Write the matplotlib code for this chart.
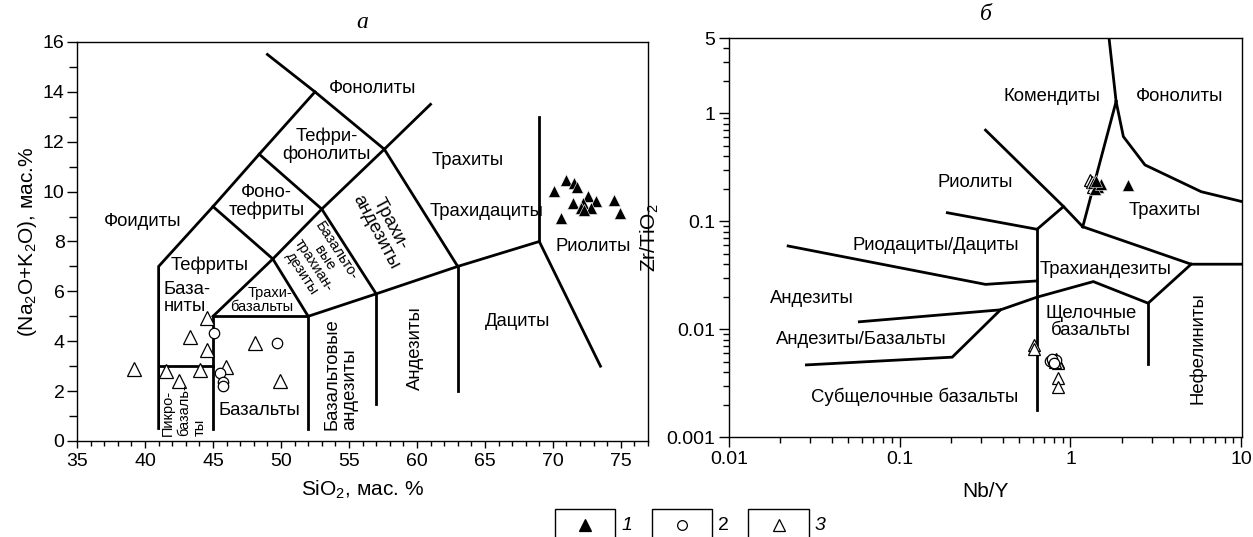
import matplotlib
matplotlib.use("Agg")
import matplotlib.pyplot as plt
from matplotlib.patches import Rectangle
from matplotlib.lines import Line2D
from matplotlib.ticker import MultipleLocator, FixedLocator, FixedFormatter, LogLocator, NullFormatter

plt.rcParams['font.family'] = ['Liberation Sans', 'DejaVu Sans']
plt.rcParams['mathtext.default'] = 'regular'

# ---------------- TAS (SiO2 vs Na2O+K2O) ----------------
sio2_1 = [70.1, 71.0, 71.55, 71.75, 72.6, 73.2, 74.5, 71.45, 72.2, 72.8, 72.05, 70.6, 74.9, 72.3]
alk_1 = [10.04, 10.47, 10.36, 10.2, 9.83, 9.64, 9.67, 9.53, 9.53, 9.33, 9.33, 8.96, 9.13, 9.26]

sio2_2 = [45.04, 45.5, 45.7, 45.7, 49.7]
alk_2 = [4.32, 2.72, 2.38, 2.2, 3.94]

sio2_3 = [39.2, 41.55, 44.05, 42.5, 43.3, 44.55, 44.55, 45.97, 48.06, 49.9]
alk_3 = [2.88, 2.82, 2.85, 2.4, 4.18, 3.65, 4.92, 2.98, 3.94, 2.42]

# field boundaries (SiO2, Na2O+K2O)
tas_lines = [
    [(41, 0.5), (41, 7), (45, 9.4), (48.4, 11.5), (52.5, 14)],
    [(49.0, 15.5), (52.5, 14), (57.6, 11.7), (63, 7), (69, 8), (73.5, 3)],
    [(57.6, 11.7), (61, 13.5)],
    [(41, 3), (45, 3)],
    [(45, 0.5), (45, 5), (52, 5), (52, 0.5)],
    [(45, 5), (49.4, 7.3), (52, 5)],
    [(49.4, 7.3), (53, 9.3), (57.6, 11.7)],
    [(45, 9.4), (49.4, 7.3)],
    [(48.4, 11.5), (53, 9.3)],
    [(53, 9.3), (57, 5.9)],
    [(52, 5), (57, 5.9), (63, 7)],
    [(57, 1.5), (57, 5.9)],
    [(63, 2), (63, 7)],
    [(69, 8), (69, 13)],
]

# ---------------- Nb/Y vs Zr/TiO2 ----------------
nby_1 = [1.36, 1.45, 1.40, 1.50, 1.42, 2.18]
zr_1 = [0.226, 0.21, 0.20, 0.22, 0.235, 0.217]

nby_2 = [0.76, 0.79, 0.82, 0.78, 0.80]
zr_2 = [0.0051, 0.0050, 0.0052, 0.0053, 0.0049]

nby_3 = [1.30, 1.33, 1.36, 0.61, 0.61, 0.80, 0.83, 0.85, 0.82, 0.84, 0.81, 0.84, 0.84]
zr_3 = [0.24, 0.23, 0.21, 0.00714, 0.00653, 0.0052, 0.0051, 0.0050, 0.0053, 0.0049, 0.0050, 0.0035, 0.0029]

wf_lines = [
    [(1.66, 6.0), (1.85, 1.29)],
    [(1.85, 1.29), (2.04, 0.61), (2.73, 0.333), (5.83, 0.188), (10.5, 0.15)],
    [(1.85, 1.29), (1.18, 0.089)],
    [(0.318, 0.70), (0.91, 0.137), (1.18, 0.089)],
    [(0.91, 0.137), (0.637, 0.0843)],
    [(0.19, 0.12), (0.637, 0.0843)],
    [(0.637, 0.0843), (0.637, 0.00178)],
    [(0.0222, 0.059), (0.318, 0.026), (0.637, 0.028)],
    [(1.18, 0.089), (5.09, 0.040), (10.5, 0.040)],
    [(5.09, 0.040), (2.85, 0.0174), (1.36, 0.0276), (0.637, 0.0198), (0.389, 0.0151), (0.058, 0.0117)],
    [(2.85, 0.0174), (2.85, 0.00476)],
    [(0.389, 0.0151), (0.203, 0.0055), (0.0284, 0.00466)],
]

fig = plt.figure(figsize=(12.53, 5.37), dpi=100)
ax1 = fig.add_axes([0.0615, 0.1788, 0.4557, 0.743])
ax2 = fig.add_axes([0.5818, 0.1862, 0.4094, 0.743])

LW = 2.0
FS = 13.3
FS_S = 10.5
TICK_FS = 14
LAB_FS = 15

# ---- TAS ----
for seg in tas_lines:
    xs = [p[0] for p in seg]
    ys = [p[1] for p in seg]
    ax1.plot(xs, ys, color='black', lw=LW, solid_joinstyle='miter')

ax1.plot(sio2_3, alk_3, ls='none', marker='^', ms=10, mfc='white', mec='black', mew=0.9)
ax1.plot(sio2_2, alk_2, ls='none', marker='o', ms=7.5, mfc='white', mec='black', mew=0.9)
ax1.plot(sio2_1, alk_1, ls='none', marker='^', ms=8.5, mfc='black', mec='white', mew=0.4)

ax1.text(56.7, 14.14, 'Фонолиты', fontsize=FS, ha='center', va='center')
ax1.text(53.38, 11.87, 'Тефри-\nфонолиты', fontsize=FS, ha='center', va='center', linespacing=1.05)
ax1.text(48.95, 9.62, 'Фоно-\nтефриты', fontsize=FS, ha='center', va='center', linespacing=1.05)
ax1.text(39.82, 8.8, 'Фоидиты', fontsize=FS, ha='center', va='center')
ax1.text(63.73, 11.24, 'Трахиты', fontsize=FS, ha='center', va='center')
ax1.text(65.11, 9.2, 'Трахидациты', fontsize=FS, ha='center', va='center')
ax1.text(72.96, 7.79, 'Риолиты', fontsize=FS, ha='center', va='center')
ax1.text(44.74, 7.06, 'Тефриты', fontsize=FS, ha='center', va='center')
ax1.text(41.35, 5.74, 'База-\nниты', fontsize=FS, ha='left', va='center', linespacing=1.05)
ax1.text(50.87, 5.66, 'Трахи-\nбазальты', fontsize=FS_S, ha='right', va='center',
         multialignment='right', linespacing=1.0)
ax1.text(41.2, 0.2, 'Пикро-\nбазаль-\nты', fontsize=FS_S, rotation=90, rotation_mode='anchor',
         ha='left', va='top', linespacing=1.15)
ax1.text(48.43, 1.24, 'Базальты', fontsize=FS, ha='center', va='center')
ax1.text(53.15, 0.44, 'Базальтовые\nандезиты', fontsize=FS, rotation=90, rotation_mode='anchor',
         ha='left', va='top', linespacing=1.05)
ax1.text(59.87, 3.73, 'Андезиты', fontsize=FS, rotation=90, ha='center', va='center')
ax1.text(67.38, 4.79, 'Дациты', fontsize=FS, ha='center', va='center')
ax1.text(57.5, 8.54, 'Трахи-\nандезиты', fontsize=FS, rotation=-62, rotation_mode='anchor',
         ha='center', va='center', linespacing=1.0)
ax1.text(52.8, 7.18, 'Базальто-\nвые\nтрахиан-\nдезиты', fontsize=FS_S, rotation=-57,
         rotation_mode='anchor', ha='center', va='center', linespacing=0.95)

ax1.set_xlim(35, 77)
ax1.set_ylim(0, 16)
ax1.xaxis.set_major_locator(MultipleLocator(5))
ax1.xaxis.set_minor_locator(MultipleLocator(1))
ax1.yaxis.set_major_locator(MultipleLocator(2))
ax1.yaxis.set_minor_locator(MultipleLocator(1))
ax1.tick_params(axis='x', which='major', length=5, width=1, labelsize=TICK_FS, pad=4)
ax1.tick_params(axis='x', which='minor', length=3.5, width=1)
ax1.tick_params(axis='y', which='major', length=7, width=1, labelsize=TICK_FS, pad=2)
ax1.tick_params(axis='y', which='minor', length=6, width=1)
ax1.set_xlabel('SiO$_2$, мас. %', fontsize=LAB_FS, labelpad=6)
ax1.set_ylabel('(Na$_2$O+K$_2$O), мас.%', fontsize=LAB_FS, labelpad=3)
ax1.set_title('а', fontsize=17, style='italic', family='Liberation Serif', pad=10)

# ---- Nb/Y vs Zr/TiO2 ----
for seg in wf_lines:
    xs = [p[0] for p in seg]
    ys = [p[1] for p in seg]
    ax2.plot(xs, ys, color='black', lw=LW, solid_joinstyle='miter')

ax2.plot(nby_3, zr_3, ls='none', marker='^', ms=9, mfc='white', mec='black', mew=0.9)
ax2.plot(nby_2, zr_2, ls='none', marker='o', ms=7.5, mfc='white', mec='black', mew=0.9)
ax2.plot(nby_1, zr_1, ls='none', marker='^', ms=8.5, mfc='black', mec='white', mew=0.4)

ax2.text(0.775, 1.42, 'Комендиты', fontsize=FS, ha='center', va='center')
ax2.text(4.38, 1.42, 'Фонолиты', fontsize=FS, ha='center', va='center')
ax2.text(0.275, 0.231, 'Риолиты', fontsize=FS, ha='center', va='center')
ax2.text(3.58, 0.127, 'Трахиты', fontsize=FS, ha='center', va='center')
ax2.text(0.163, 0.059, 'Риодациты/Дациты', fontsize=FS, ha='center', va='center')
ax2.text(1.60, 0.0361, 'Трахиандезиты', fontsize=FS, ha='center', va='center')
ax2.text(0.0305, 0.0191, 'Андезиты', fontsize=FS, ha='center', va='center')
ax2.text(0.0597, 0.0081, 'Андезиты/Базальты', fontsize=FS, ha='center', va='center')
ax2.text(0.1216, 0.00236, 'Субщелочные базальты', fontsize=FS, ha='center', va='center')
ax2.text(1.32, 0.01166, 'Щелочные\nбазальты', fontsize=FS, ha='center', va='center', linespacing=1.05)
ax2.text(5.57, 0.0067, 'Нефелиниты', fontsize=FS, rotation=90, ha='center', va='center')

ax2.set_xscale('log')
ax2.set_yscale('log')
ax2.set_xlim(0.01, 10.1)
ax2.set_ylim(0.001, 5)
ax2.xaxis.set_major_locator(FixedLocator([0.01, 0.1, 1, 10]))
ax2.xaxis.set_major_formatter(FixedFormatter(['0.01', '0.1', '1', '10']))
ax2.xaxis.set_minor_locator(LogLocator(base=10, subs=range(2, 10)))
ax2.xaxis.set_minor_formatter(NullFormatter())
ax2.yaxis.set_major_locator(FixedLocator([0.001, 0.01, 0.1, 1, 5]))
ax2.yaxis.set_major_formatter(FixedFormatter(['0.001', '0.01', '0.1', '1', '5']))
ax2.yaxis.set_minor_locator(LogLocator(base=10, subs=range(2, 10)))
ax2.yaxis.set_minor_formatter(NullFormatter())
ax2.tick_params(axis='both', which='major', length=7, width=1, labelsize=TICK_FS, pad=3)
ax2.tick_params(axis='both', which='minor', length=4, width=1)
ax2.set_xlabel('Nb/Y', fontsize=LAB_FS, labelpad=10)
ax2.set_ylabel('Zr/TiO$_2$', fontsize=LAB_FS, labelpad=4)
ax2.set_title('б', fontsize=17, style='italic', family='Liberation Serif', pad=13)

for ax in (ax1, ax2):
    for sp in ax.spines.values():
        sp.set_linewidth(1.0)

# ---- legend boxes ----
W, H = 1253.0, 537.0
boxes = [(555, 615, 'black', '^', 8, '1', 'italic'),
         (652, 712, 'white', 'o', 7, '2', 'normal'),
         (748, 809, 'white', '^', 9, '3', 'italic')]
for x0, x1, fc, mk, ms, lab, st in boxes:
    fig.add_artist(Rectangle((x0 / W, -0.05), (x1 - x0) / W, 0.05 + (H - 509) / H,
                             transform=fig.transFigure, fill=False, ec='black', lw=1.0))
    fig.add_artist(Line2D([(x0 + x1) / 2 / W], [1 - 525 / H], transform=fig.transFigure,
                          ls='none', marker=mk, ms=ms, mfc=fc, mec='black', mew=0.9))
    fig.text((x1 + 6) / W, 1 - 525 / H, lab, fontsize=TICK_FS, style=st, ha='left', va='center')

plt.savefig('out.png', dpi=100)
